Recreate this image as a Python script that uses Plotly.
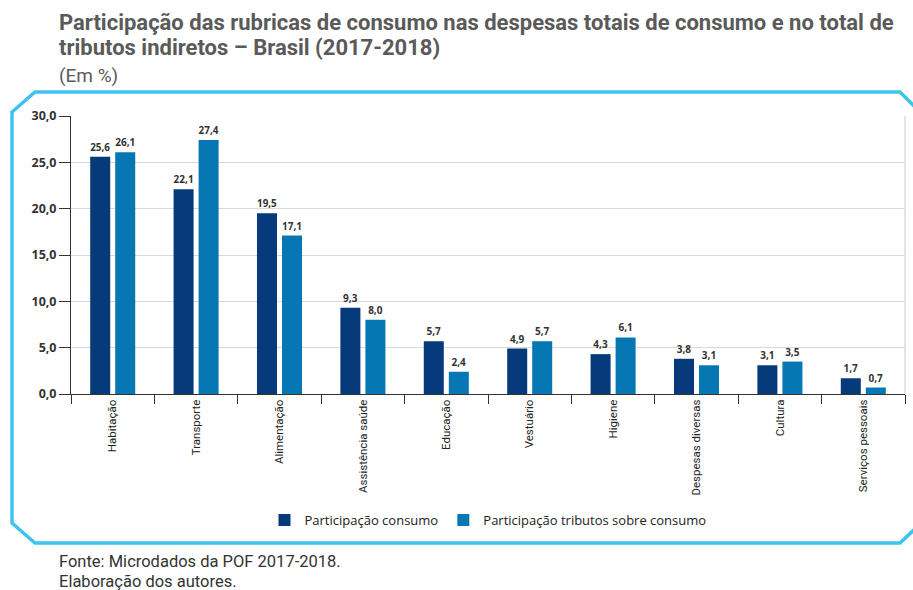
import plotly.graph_objects as go

categorias = ["Habitação", "Transporte", "Alimentação", "Assistência saúde", "Educação",
              "Vestuário", "Higiene", "Despesas diversas", "Cultura", "Serviços pessoais"]
part_consumo = [25.6, 22.1, 19.5, 9.3, 5.7, 4.9, 4.3, 3.8, 3.1, 1.7]
part_tributos = [26.1, 27.4, 17.1, 8.0, 2.4, 5.7, 6.1, 3.1, 3.5, 0.7]

W, H = 913, 590
ML, MR, MT, MB = 71, 8, 116, 196
PW, PH = W - ML - MR, H - MT - MB

def px(x):
    return (x - ML) / PW

def py(y):
    return (H - MB - y) / PH

fig = go.Figure()
fig.add_trace(go.Bar(
    x=categorias, y=part_consumo, name="Participação consumo",
    marker=dict(color="#063a7a", line=dict(width=0)),
    texttemplate="%{y:.1f}", textposition="outside",
    textfont=dict(family="Open Sans", size=10, color="#333333", weight="bold"),
    cliponaxis=False,
))
fig.add_trace(go.Bar(
    x=categorias, y=part_tributos, name="Participação tributos sobre consumo",
    marker=dict(color="#0677b3", line=dict(width=0)),
    texttemplate="%{y:.1f}", textposition="outside",
    textfont=dict(family="Open Sans", size=10, color="#333333", weight="bold"),
    cliponaxis=False,
))

# Frame
pts = [(12, 112), (35, 92), (900, 92), (917, 109), (917, 527), (900, 543), (35, 543), (12, 523)]
path = "M " + " L ".join(f"{px(a):.5f},{py(b):.5f}" for a, b in pts) + " Z"
shapes = [
    dict(type="path", xref="paper", yref="paper", path=path,
         line=dict(color="#3fc3ee", width=3.5), layer="below"),
    dict(type="line", xref="paper", yref="paper", x0=1, x1=1, y0=0, y1=1,
         line=dict(color="#cccccc", width=1), layer="below"),
]

tfont = dict(family="Roboto", size=22, color="#5a5a5a")
ffont = dict(family="Roboto", size=16.5, color="#333333")
annotations = [
    dict(text="<b>Participação das rubricas de consumo nas despesas totais de consumo e no total de</b>",
         x=px(57), y=py(22), xref="paper", yref="paper", xanchor="left", yanchor="middle",
         showarrow=False, font=tfont),
    dict(text="<b>tributos indiretos – Brasil (2017-2018)</b>",
         x=px(57), y=py(48), xref="paper", yref="paper", xanchor="left", yanchor="middle",
         showarrow=False, font=tfont),
    dict(text="(Em %)",
         x=px(57), y=py(75), xref="paper", yref="paper", xanchor="left", yanchor="middle",
         showarrow=False, font=dict(family="Roboto", size=19, color="#5a5a5a")),
    dict(text="Fonte: Microdados da POF 2017-2018.",
         x=px(57), y=py(561), xref="paper", yref="paper", xanchor="left", yanchor="middle",
         showarrow=False, font=ffont),
    dict(text="Elaboração dos autores.",
         x=px(57), y=py(581), xref="paper", yref="paper", xanchor="left", yanchor="middle",
         showarrow=False, font=ffont),
]

fig.update_layout(
    width=W, height=H,
    margin=dict(l=ML, r=MR, t=MT, b=MB, autoexpand=False),
    paper_bgcolor="white", plot_bgcolor="white",
    barmode="group", bargap=0.40, bargroupgap=0.2,
    separators=",.",
    showlegend=True,
    legend=dict(orientation="h", x=px(488), y=py(520), xanchor="center", yanchor="middle",
                font=dict(family="Open Sans", size=13, color="#222222"),
                itemwidth=30, traceorder="normal"),
    shapes=shapes, annotations=annotations,
    xaxis=dict(type="category", tickson="boundaries", ticks="outside", ticklen=9,
               tickcolor="#333333", showline=True, linecolor="#333333", linewidth=1,
               tickangle=-90, tickfont=dict(family="Roboto", size=11.5, color="#222222"),
               showgrid=False),
    yaxis=dict(range=[0, 30], dtick=5, tickformat=".1f", ticks="outside", ticklen=11,
               tickcolor="#333333", showline=True, linecolor="#333333", linewidth=1,
               gridcolor="#d9d9d9", gridwidth=1, zeroline=False,
               tickfont=dict(family="Open Sans", size=12.5, color="#333333", weight="bold")),
)

fig.write_html("out.html")
